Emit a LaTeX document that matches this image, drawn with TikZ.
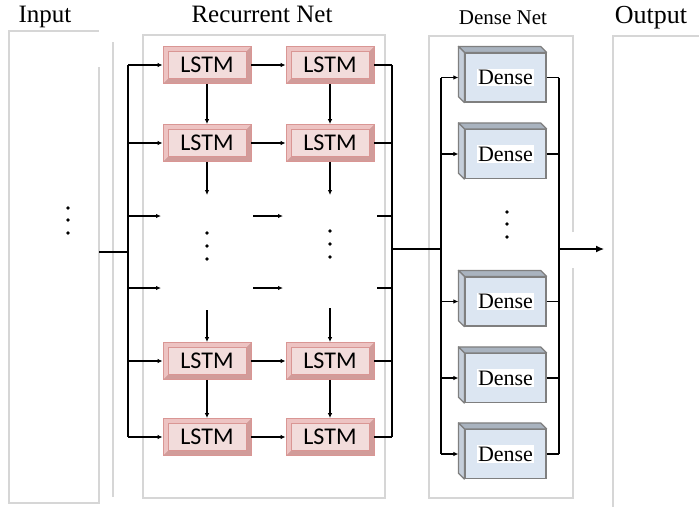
\documentclass[tikz,border=0pt]{standalone}
\usepackage{fontspec}
\setmainfont{Liberation Serif}
\newfontfamily\lstmfont{Carlito}
\usetikzlibrary{arrows.meta}

\definecolor{panelgray}{HTML}{D6D6D6}
\definecolor{lstmlight}{HTML}{EDC3C2}
\definecolor{lstmdark}{HTML}{D19C9A}
\definecolor{lstmcore}{HTML}{F2DCDB}
\definecolor{lstmedge}{HTML}{D99694}
\definecolor{densefront}{HTML}{DCE6F2}
\definecolor{densetop}{HTML}{A9B3BF}
\definecolor{denseside}{HTML}{C5CEDA}
\definecolor{denseedge}{HTML}{7F7F7F}

\tikzset{
  panel/.style={draw=panelgray, line width=1.5pt},
  title/.style={anchor=base, inner sep=0pt, font=\fontsize{25}{30}\selectfont},
  wire/.style={line width=1.2pt},
  bus/.style={line width=2pt},
  lstm/.style={rectangle, minimum width=88pt, minimum height=37pt, inner sep=0pt,
    fill=lstmdark, draw=lstmedge, line width=0.8pt,
    font=\lstmfont\fontsize{24}{28}\selectfont,
    path picture={
      \fill[lstmlight] (path picture bounding box.north west)
        -- (path picture bounding box.north east)
        -- ([shift={(-5,5)}]path picture bounding box.north east)
        -- ([shift={(5,5)}]path picture bounding box.north west)
        -- ([shift={(5,-5)}]path picture bounding box.south west)
        -- (path picture bounding box.south west) -- cycle;
      \filldraw[fill=lstmcore, draw=lstmedge, line width=0.5pt]
        ([shift={(5,5)}]path picture bounding box.north west)
        rectangle ([shift={(-5,-5)}]path picture bounding box.south east);
    }},
  dense/.style={rectangle, minimum width=81pt, minimum height=49pt, inner sep=0pt,
    fill=densefront, draw=denseedge, line width=1.2pt},
  dlabel/.style={fill=white, inner sep=1.5pt, font=\fontsize{22}{26}\selectfont},
  dot/.style={fill=black},
}

\begin{document}
\begin{tikzpicture}[x=1pt, y=-1pt, >={Latex[length=5pt,width=4.5pt]}]
\useasboundingbox (0,0) rectangle (699,507);

% panels
\draw[panel] (99,67) -- (99,503) -- (9,503) -- (9,31) -- (99,31);
\draw[panel] (113,42) -- (113,497);
\draw[panel] (143,35) rectangle (385,498);
\draw[panel] (573,232) -- (573,36) -- (429,36) -- (429,498) -- (573,498) -- (573,268);
\draw[panel] (699,36) -- (613,36) -- (613,507);

% titles
\node[title] (tin) at (45,22) {Input};
\node[title] (trec) at (262,22) {Recurrent Net};
\node[title, font=\fontsize{21}{25}\selectfont] (tden) at (503,24) {Dense Net};
\node[title, font=\fontsize{26}{31}\selectfont] (tout) at (651,23) {Output};

% input dots
\foreach \y in {208,220,233} \fill[dot] (68,\y) circle (1.8);

% recurrent grid
\node[lstm] (a1) at (207,65) {LSTM};
\node[lstm] (b1) at (330,65) {LSTM};
\node[lstm] (a2) at (207,143) {LSTM};
\node[lstm] (b2) at (330,143) {LSTM};
\node[lstm] (a5) at (207,361) {LSTM};
\node[lstm] (b5) at (330,361) {LSTM};
\node[lstm] (a6) at (207,437) {LSTM};
\node[lstm] (b6) at (330,437) {LSTM};

\coordinate (ra3) at (161,216);
\coordinate (ra4) at (161,288);
\coordinate (ma3) at (253,216);
\coordinate (mb3) at (283,216);
\coordinate (ma4) at (253,288);
\coordinate (mb4) at (283,288);
\coordinate (rb3) at (377,216);
\coordinate (rb4) at (377,288);
\coordinate (da) at (207,195);
\coordinate (db) at (330,195);
\coordinate (ua) at (207,310);
\coordinate (ub) at (330,308);

\foreach \y in {233,246,259} {
  \fill[dot] (207,\y) circle (1.8);
  \fill[dot] (330,\y-2) circle (1.8);
}

% input bus
\coordinate (inlead) at (99,252);
\coordinate (inbus) at (128,252);
\draw[wire] (inlead) -- (inbus);
\draw[wire] (inbus |- a1) -- (inbus |- a6);
\foreach \n in {a1,a2,ra3,ra4,a5,a6} \draw[wire,->] (inbus |- \n) -- (\n);

% time steps
\draw[wire,->] (a1) -- (b1);
\draw[wire,->] (a2) -- (b2);
\draw[wire,->] (ma3) -- (mb3);
\draw[wire,->] (ma4) -- (mb4);
\draw[wire,->] (a5) -- (b5);
\draw[wire,->] (a6) -- (b6);

% layers
\draw[wire,->] (a1) -- (a2);
\draw[wire,->] (b1) -- (b2);
\draw[wire,->] (a2) -- (da);
\draw[wire,->] (b2) -- (db);
\draw[wire,->] (ua) -- (a5);
\draw[wire,->] (ub) -- (b5);
\draw[wire,->] (a5) -- (a6);
\draw[wire,->] (b5) -- (b6);

% recurrent output bus
\coordinate (outbus) at (392,249);
\foreach \n in {b1,b2,rb3,rb4,b5,b6} \draw[wire] (\n) -- (outbus |- \n);
\draw[bus] (outbus |- b1) -- (outbus |- b6);

% dense net
\node[dense, label={[dlabel]center:Dense}] (d1) at (505.5,77.5) {};
\node[dense, label={[dlabel]center:Dense}] (d2) at (505.5,154) {};
\node[dense, label={[dlabel]center:Dense}] (d3) at (505.5,301.5) {};
\node[dense, label={[dlabel]center:Dense}] (d4) at (505.5,378) {};
\node[dense, label={[dlabel]center:Dense}] (d5) at (505.5,454) {};
\foreach \n in {d1,d2,d3,d4,d5} {
  \filldraw[fill=densetop, draw=denseedge, line width=1.2pt, line join=round]
    (\n.north west) -- ([shift={(-6,-6)}]\n.north west)
    -- ([shift={(-6,-6)}]\n.north east) -- (\n.north east) -- cycle;
  \filldraw[fill=denseside, draw=denseedge, line width=1.2pt, line join=round]
    (\n.north west) -- ([shift={(-6,-6)}]\n.north west)
    -- ([shift={(-6,-6)}]\n.south west) -- (\n.south west) -- cycle;
}
\foreach \y in {212,224,237} \fill[dot] (507,\y) circle (1.8);

\coordinate (dbus) at (441,249);
\draw[bus] (outbus) -- (dbus);
\draw[bus] (dbus |- d1) -- (dbus |- d5);
\foreach \n in {d1,d2,d3,d4,d5} \draw[wire,->] (dbus |- \n) -- ([xshift=-6pt]\n.west);

\coordinate (dout) at (559,249);
\coordinate (outtip) at (604,249);
\foreach \n in {d1,d2,d3,d4,d5} \draw[wire] (\n) -- (dout |- \n);
\draw[bus] (dout |- d1) -- (dout |- d5);
\draw[wire,-{Latex[length=8pt,width=7pt]}] (dout) -- (outtip);

\end{tikzpicture}
\end{document}
